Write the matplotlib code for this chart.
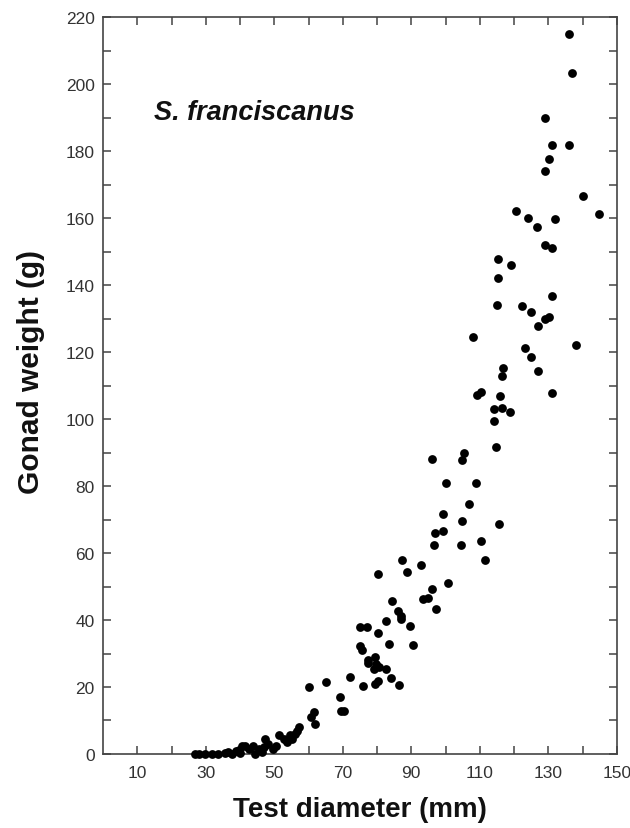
import matplotlib.pyplot as plt
import numpy as np

plt.rcParams['font.family'] = ['Liberation Sans', 'DejaVu Sans']

# test diameter (mm) and gonad weight (g)
diameter = [136.0, 137.0, 129.1, 131.0, 136.0, 130.3, 128.9, 140.1, 120.7, 144.9,
            124.2, 132.1, 126.8, 128.9, 131.0, 115.2, 119.0, 115.2, 131.0, 115.1,
            122.3, 124.9, 130.2, 128.9, 127.1, 107.9, 138.2, 123.1, 125.0, 116.9,
            116.5, 126.9, 110.4, 109.1, 116.0, 131.0, 114.3, 116.4, 118.8, 114.1,
            114.6, 96.1, 105.3, 104.9, 100.2, 109.0, 106.9, 99.4, 104.8, 115.5,
            96.9, 99.4, 96.7, 104.6, 110.4, 111.4, 87.3, 92.8, 80.2, 88.8,
            100.8, 96.1, 93.3, 94.8, 84.4, 97.1, 86.1, 87.1, 86.9, 82.7,
            75.0, 77.0, 89.5, 80.2, 83.4, 90.4, 75.0, 75.6, 79.3, 77.4,
            77.4, 79.8, 79.0, 80.6, 82.5, 72.0, 84.0, 79.3, 80.4, 75.9,
            86.4, 69.3, 69.5, 70.5, 60.1, 65.0, 61.5, 60.7, 62.0, 57.1,
            56.6, 56.2, 55.2, 53.7, 52.7, 51.3, 54.7, 47.4, 48.3, 46.9,
            45.4, 43.9, 42.5, 41.5, 40.5, 39.6, 40.0, 46.4, 44.4, 37.6,
            35.6, 33.7, 31.7, 29.8, 26.9, 28.0, 49.5, 50.5, 36.5, 38.8]
weight = [214.9, 203.2, 190.0, 181.8, 181.8, 177.8, 174.1, 166.5, 162.1, 161.2,
          160.0, 159.7, 157.4, 151.9, 151.1, 147.8, 146.1, 142.0, 136.7, 134.2,
          133.9, 132.0, 130.6, 129.9, 127.9, 124.4, 122.0, 121.3, 118.6, 115.4,
          113.0, 114.5, 108.0, 107.2, 107.0, 107.8, 103.1, 103.2, 102.1, 99.5,
          91.8, 88.0, 89.9, 87.8, 80.9, 80.9, 74.6, 71.6, 69.5, 68.7,
          66.1, 66.6, 62.5, 62.5, 63.5, 57.8, 57.8, 56.5, 53.7, 54.4,
          51.2, 49.3, 46.2, 46.6, 45.6, 43.3, 42.8, 41.3, 40.3, 39.6,
          38.0, 38.0, 38.3, 36.2, 32.7, 32.5, 32.1, 31.0, 28.9, 28.1,
          27.1, 26.9, 25.4, 25.9, 25.4, 22.9, 22.7, 20.9, 21.9, 20.4,
          20.7, 16.9, 12.9, 12.9, 19.9, 21.6, 12.4, 10.9, 9.0, 8.0,
          7.0, 6.0, 4.5, 3.5, 4.5, 5.7, 5.7, 4.5, 3.0, 2.0,
          1.5, 2.3, 1.5, 2.5, 2.5, 1.3, 0.3, 0.5, 0.0, 0.0,
          0.3, 0.0, 0.0, 0.0, 0.0, 0.0, 1.5, 2.5, 0.5, 0.8]

xticks = np.arange(10, 151, 10)
xlabels = [str(t) if t % 20 == 10 else '' for t in xticks]
yticks = np.arange(0, 221, 10)
ylabels = [str(t) if t % 20 == 0 else '' for t in yticks]

fig = plt.figure(figsize=(6.3, 8.29), dpi=100)
ax = fig.add_axes([0.1635, 0.0893, 0.8155, 0.8887])

ax.scatter(diameter, weight, s=40, color='black', linewidths=0, zorder=3, clip_on=False)

ax.set_xlim(0, 150)
ax.set_ylim(0, 220)
ax.set_xticks(xticks, xlabels)
ax.set_yticks(yticks, ylabels)
ax.tick_params(direction='in', length=6, width=1.1, color='#444444',
               top=True, right=True, labelsize=12.5, labelcolor='#333333', pad=6)
ax.tick_params(axis='x', pad=8)
for s in ax.spines.values():
    s.set_linewidth(1.2)
    s.set_color('#444444')

ax.set_xlabel('Test diameter (mm)', fontsize=20, fontweight='bold', color='#111111')
ax.xaxis.set_label_coords(0.5, -0.057)
ax.set_ylabel('Gonad weight (g)', fontsize=21.5, fontweight='bold', color='#111111')
ax.yaxis.set_label_coords(-0.113, 0.52)
ax.text(0.10, 0.871, 'S. franciscanus', transform=ax.transAxes, fontsize=19.5,
        fontstyle='italic', fontweight='bold', va='center', ha='left', color='#111111')

fig.savefig('out.png', dpi=100)
